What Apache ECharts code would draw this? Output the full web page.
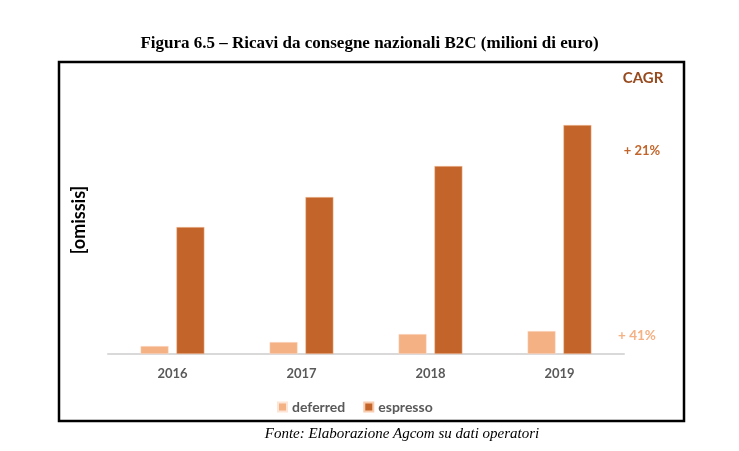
<!DOCTYPE html>
<html><head><meta charset="utf-8">
<script src="https://cdn.jsdelivr.net/npm/echarts@6/dist/echarts.min.js"></script>
<style>html,body{margin:0;padding:0;background:#fff}#c{width:739px;height:451px}</style>
</head><body><div id="c"></div>
<script>
const years = ['2016', '2017', '2018', '2019'];
const deferred = [8, 12, 20, 23];
const espresso = [127, 157, 188, 229];
const seriesNames = ['deferred', 'espresso'];
const cagrLabels = ['+ 41%', '+ 21%'];
const yMax = 250;

const chart = echarts.init(document.getElementById('c'));
chart.setOption({
  backgroundColor: '#ffffff',
  animation: false,
  title: {
    text: 'Figura 6.5 – Ricavi da consegne nazionali B2C (milioni di euro)',
    left: 'center', top: 30,
    textStyle: {fontFamily: 'Liberation Serif', fontWeight: 'bold', fontSize: 17, color: '#000'}
  },
  legend: {
    data: seriesNames,
    bottom: 32, left: 272,
    itemWidth: 9, itemHeight: 9, itemGap: 18,
    icon: 'rect',
    textStyle: {fontFamily: 'Lato', fontSize: 14, color: '#595959', fontWeight: 'bold'}
  },
  grid: {left: 108, right: 115, top: 354 - 250, bottom: 97},
  xAxis: {
    type: 'category', data: years,
    axisLine: {lineStyle: {color: '#D9D9D9', width: 2}},
    axisTick: {show: false},
    axisLabel: {fontFamily: 'Lato', fontWeight: 'bold', fontSize: 13, color: '#595959', margin: 13}
  },
  yAxis: {
    type: 'value', min: 0, max: yMax,
    axisLine: {show: false}, axisTick: {show: false}, axisLabel: {show: false}, splitLine: {show: false}
  },
  series: [
    {name: seriesNames[0], type: 'bar', data: deferred, barWidth: 28, barGap: '28%',
     itemStyle: {color: '#F4B183', borderColor: '#FCE4D6', borderWidth: 0.5}},
    {name: seriesNames[1], type: 'bar', data: espresso, barWidth: 28,
     itemStyle: {color: '#C3652A', borderColor: '#F8CBAD', borderWidth: 0.5}}
  ],
  graphic: [
    {type: 'rect', shape: {x: 59, y: 62, width: 625, height: 359},
     style: {fill: 'none', stroke: '#000', lineWidth: 2.5}},
    {type: 'text', x: 643, y: 78, style: {text: 'CAGR', fill: '#974A1E', font: 'bold 15px Lato', textAlign: 'center', textVerticalAlign: 'middle'}},
    {type: 'text', x: 642, y: 151, style: {text: cagrLabels[1], fill: '#C3652A', font: 'bold 13px Lato', textAlign: 'center', textVerticalAlign: 'middle'}},
    {type: 'text', x: 637, y: 336, style: {text: cagrLabels[0], fill: '#F4B183', font: 'bold 13.5px Lato', textAlign: 'center', textVerticalAlign: 'middle'}},
    {type: 'text', x: 79, y: 220, rotation: Math.PI / 2,
     style: {text: '[omissis]', fill: '#000', font: 'bold 18px Lato', textAlign: 'center', textVerticalAlign: 'middle'}},
    {type: 'text', x: 402, y: 434, style: {text: 'Fonte: Elaborazione Agcom su dati operatori', fill: '#000', font: 'italic 15px "Liberation Serif"', textAlign: 'center', textVerticalAlign: 'middle'}}
  ]
});
</script></body></html>
